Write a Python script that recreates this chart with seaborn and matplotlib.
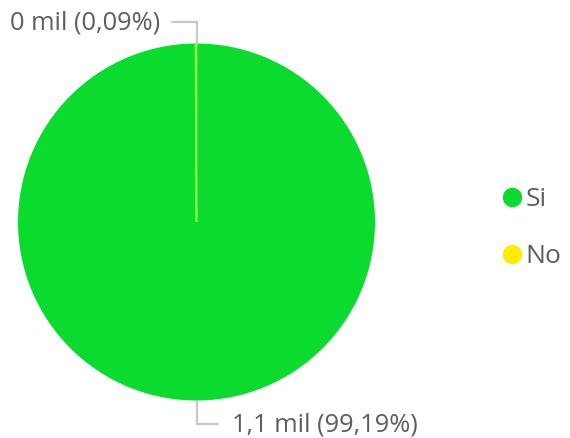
import matplotlib
matplotlib.use("Agg")
import matplotlib.pyplot as plt
import seaborn as sns
from matplotlib.lines import Line2D

# data
categories = ["Si", "No"]
counts = [1100, 1]
value_labels = ["1,1 mil (99,19%)", "0 mil (0,09%)"]
colors = ["#0BDB2F", "#FFEB00"]

sns.set_theme(style="white")
plt.rcParams["font.family"] = ["Open Sans", "DejaVu Sans"]

W, H = 570, 438
fig = plt.figure(figsize=(W / 100, H / 100), dpi=100)
ax = fig.add_axes([0, 0, 1, 1])

cx, cy, r = 196.5, H - 222, 178.5
wedges, _ = ax.pie(counts, colors=colors, startangle=90, counterclock=False,
                   center=(cx, cy), radius=r,
                   wedgeprops=dict(linewidth=0))
wedges[1].set_edgecolor("#9BEF3F")
wedges[1].set_linewidth(1.2)

ax.set_xlim(0, W)
ax.set_ylim(0, H)
ax.set_aspect("equal")
ax.axis("off")

line_c = "#C8C8C8"
txt_c = "#605E5C"
# leader line for "No" (top)
top = cy + r
ax.plot([cx, cx, cx - 25], [top, top + 22, top + 22], color=line_c, lw=1.6,
        solid_joinstyle="miter")
ax.text(cx - 36, top + 21, value_labels[1], ha="right", va="center",
        fontsize=18.3, color=txt_c)
# leader line for "Si" (bottom)
bot = cy - r
ax.plot([cx, cx, cx + 21], [bot, bot - 23, bot - 23], color=line_c, lw=1.6,
        solid_joinstyle="miter")
ax.text(cx + 35, bot - 24, value_labels[0], ha="left", va="center",
        fontsize=18.3, color=txt_c)

handles = [Line2D([0], [0], marker="o", linestyle="none", markersize=13,
                  markerfacecolor=c, markeredgecolor=c) for c in colors]
fig.legend(handles, categories, loc="center left",
           bbox_to_anchor=(502 / W, 1 - 228 / H), frameon=False,
           fontsize=19, labelcolor=txt_c, handletextpad=0.15,
           labelspacing=1.2, handlelength=0.75, borderpad=0,
           borderaxespad=0)

fig.savefig("out.png", dpi=100)
